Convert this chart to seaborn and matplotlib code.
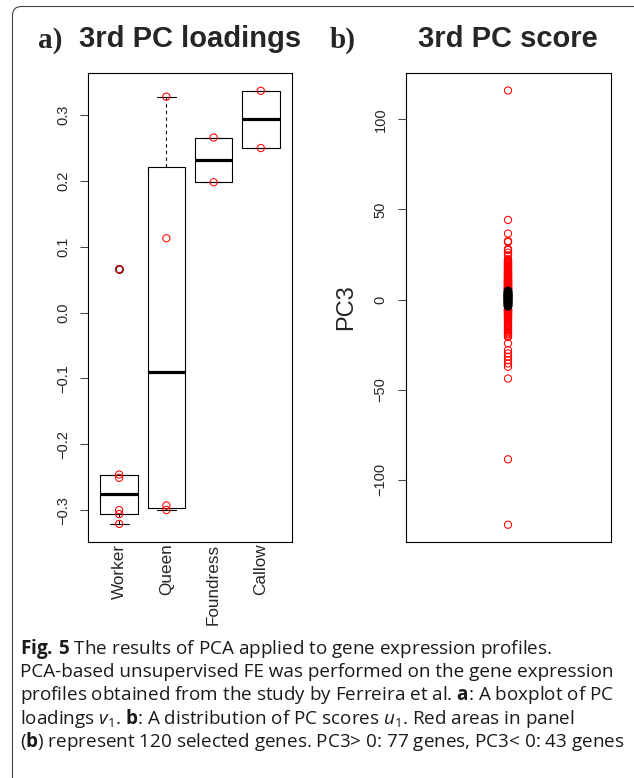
import numpy as np
import pandas as pd
import matplotlib
matplotlib.use("Agg")
import matplotlib.pyplot as plt
import seaborn as sns
from matplotlib.patches import FancyBboxPatch
from matplotlib.transforms import IdentityTransform

# ---------------- data ----------------
categories = ["Worker", "Queen", "Foundress", "Callow"]
worker_loadings = [0.066, -0.246, -0.251, -0.300, -0.306, -0.321]
queen_loadings = [0.328, 0.113, -0.293, -0.300]
foundress_loadings = [0.266, 0.198]
callow_loadings = [0.337, 0.250]
loading_ticks = [-0.3, -0.2, -0.1, 0.0, 0.1, 0.2, 0.3]

pc3_selected_pos = [116.0, 44.2, 36.6, 32.5, 31.9, 28.1, 27.5, 26.0, 24.5, 22.3, 21.9,
                    21.5, 21.1, 20.7, 20.2, 19.9, 19.5, 19.0, 18.7, 18.3, 17.9,
                    17.6, 17.2, 16.9, 16.5, 16.2, 15.8, 15.5, 15.3, 15.0, 14.7,
                    14.4, 14.2, 13.9, 13.6, 13.4, 13.1, 12.9, 12.6, 12.4, 12.1,
                    11.9, 11.7, 11.5, 11.2, 11.0, 10.8, 10.6, 10.4, 10.2, 10.0,
                    9.8, 9.6, 9.4, 9.2, 9.0, 8.8, 8.6, 8.4, 8.2, 8.0,
                    7.8, 7.6, 7.5, 7.3, 7.1, 6.9, 6.8, 6.6, 6.4, 6.3,
                    6.1, 6.0, 5.9, 5.8, 5.7, 5.6]
pc3_selected_neg = [-124.9, -88.6, -43.8, -37.3, -35.4, -33.6, -31.7, -29.9, -28.0, -24.3,
                    -20.8, -20.1, -19.3, -18.7, -18.0, -17.2, -16.5, -15.9, -15.2, -14.6,
                    -14.0, -13.3, -12.8, -12.2, -11.7, -11.1, -10.6, -10.1, -9.7, -9.2,
                    -8.8, -8.4, -8.0, -7.6, -7.3, -7.0, -6.7, -6.4, -6.2, -6.0,
                    -5.8, -5.6, -5.4]
pc3_other = [4.8, 4.5, 4.2, 3.9, 3.7, 3.4, 3.2, 2.9, 2.7, 2.5, 2.3, 2.1, 1.9, 1.7,
             1.5, 1.3, 1.1, 0.9, 0.7, 0.5, 0.3, 0.1, -0.1, -0.3, -0.5, -0.7, -0.9,
             -1.1, -1.3, -1.5, -1.8, -2.0, -2.3, -2.6, -2.9, -3.2, -3.5, -3.8]
score_ticks = [-100, -50, 0, 50, 100]

caption_lines = [
    r"$\mathbf{Fig.\,5}$ The results of PCA applied to gene expression profiles.",
    r"PCA-based unsupervised FE was performed on the gene expression",
    r"profiles obtained from the study by Ferreira et al. $\mathbf{a}$: A boxplot of PC",
    r"loadings $v_1$. $\mathbf{b}$: A distribution of PC scores $u_1$. Red areas in panel",
    r"($\mathbf{b}$) represent 120 selected genes. PC3> 0: 77 genes, PC3< 0: 43 genes",
]

# ---------------- style ----------------
sns.set_style("white")
plt.rcParams["font.family"] = ["Liberation Sans", "DejaVu Sans"]
plt.rcParams["mathtext.fontset"] = "custom"
plt.rcParams["mathtext.rm"] = "Open Sans"
plt.rcParams["mathtext.it"] = "Open Sans:italic"
plt.rcParams["mathtext.bf"] = "Open Sans:bold"

W, H = 634, 778
fig = plt.figure(figsize=(W / 100, H / 100), dpi=100)
fig.patch.set_facecolor("white")


def px_rect(l, t, r, b):
    return [l / W, 1 - b / H, (r - l) / W, (b - t) / H]


ax_a = fig.add_axes(px_rect(88, 73, 292, 542))
ax_b = fig.add_axes(px_rect(405.5, 73, 610.5, 541.5))

# ---------------- panel a ----------------
groups = [worker_loadings, queen_loadings, foundress_loadings, callow_loadings]
df_a = pd.DataFrame({
    "group": [c for c, g in zip(categories, groups) for _ in g],
    "loading": [v for g in groups for v in g],
})


def fivenum(v):
    x = np.sort(np.asarray(v, float))
    n = len(x)
    n4 = np.floor((n + 3) / 2) / 2
    d = np.array([1, n4, (n + 1) / 2, n + 1 - n4, n]) - 1
    return 0.5 * (x[np.floor(d).astype(int)] + x[np.ceil(d).astype(int)])


stats = []
for cat, vals in zip(categories, groups):
    lo, h1, med, h2, hi = fivenum(vals)
    iqr = h2 - h1
    arr = np.asarray(vals)
    ok = (arr >= h1 - 1.5 * iqr) & (arr <= h2 + 1.5 * iqr)
    stats.append(dict(med=med, q1=h1, q3=h2, whislo=arr[ok].min(), whishi=arr[ok].max(),
                      fliers=arr[~ok], label=cat))

ax_a.bxp(stats, positions=range(len(categories)), widths=0.8, capwidths=0.4,
         showfliers=True,
         boxprops=dict(color="black", lw=0.8),
         medianprops=dict(color="black", lw=2.3, solid_capstyle="butt"),
         whiskerprops=dict(color="black", lw=0.8, linestyle=(0, (3, 3))),
         capprops=dict(color="black", lw=0.8),
         flierprops=dict(marker="o", markerfacecolor="none", markeredgecolor="black",
                         markersize=5.2, markeredgewidth=1.1))

sns.stripplot(data=df_a, x="group", y="loading", order=categories, jitter=False,
              color="red", size=5.2, ax=ax_a, zorder=4)
for coll in ax_a.collections:
    coll.set_facecolor("none")
    coll.set_edgecolor("red")
    coll.set_linewidth(0.75)

ax_a.set_xlim(-0.66, 3.66)
ax_a.set_ylim(-0.3485, 0.364)
ax_a.set_xticks(range(len(categories)))
ax_a.set_xticklabels(categories, rotation=90, va="top", ha="center", fontsize=12.3)
ax_a.set_yticks(loading_ticks)
ax_a.set_yticklabels([f"{t:.1f}".replace("-", "\u2212") for t in loading_ticks],
                     rotation=90, va="center", fontsize=10.5)
ax_a.set_xlabel("")
ax_a.set_ylabel("")
ax_a.tick_params(axis="x", bottom=False, length=0, pad=1)
ax_a.set_title("3rd PC loadings", fontsize=21, fontweight="bold", pad=18.5)

# ---------------- panel b ----------------
sns.stripplot(y=pc3_selected_pos + pc3_selected_neg, jitter=False, color="red",
              size=5.2, ax=ax_b, zorder=3)
sns.stripplot(y=pc3_other, jitter=False, color="black", size=5.2, ax=ax_b, zorder=4)
for coll, c in zip(ax_b.collections, ["red", "black"]):
    coll.set_facecolor("none")
    coll.set_edgecolor(c)
    coll.set_linewidth(0.75 if c == "red" else 0.95)

ax_b.set_xlim(-0.5, 0.5)
ax_b.set_ylim(-134.2, 125.7)
ax_b.set_xticks([])
ax_b.set_yticks(score_ticks)
ax_b.set_yticklabels([str(t).replace("-", "\u2212") for t in score_ticks],
                     rotation=90, va="center", fontsize=10.5)
ax_b.set_ylabel("PC3", fontsize=17)
ax_b.yaxis.set_label_coords(-0.237, 0.5)
ax_b.set_title("3rd PC score", fontsize=21, fontweight="bold", pad=18.5)

for ax in (ax_a, ax_b):
    for sp in ax.spines.values():
        sp.set_visible(True)
        sp.set_color("black")
        sp.set_linewidth(0.8)
    ax.tick_params(axis="y", left=True, length=5.8, width=0.75, color="#444", pad=7)
    ax.grid(False)

# panel letters
fig.text(38 / W, 1 - 47.3 / H, "a)", ha="left", va="baseline",
         family="Liberation Serif", fontweight="bold", fontsize=21)
fig.text(330 / W, 1 - 47.3 / H, "b)", ha="left", va="baseline",
         family="Liberation Serif", fontweight="bold", fontsize=21)

# caption
for i, line in enumerate(caption_lines):
    fig.text(20 / W, 1 - (654 + 23.2 * i) / H, line, ha="left", va="baseline",
             family="Open Sans", fontsize=13.6, color="#1a1a1a")

# rounded frame
frame = FancyBboxPatch((12.5, -20), 640, H - 6.5 + 20,
                       boxstyle="round,pad=0,rounding_size=9",
                       transform=IdentityTransform(), fill=False,
                       ec="#444444", lw=0.8)
fig.add_artist(frame)

fig.savefig("out.png", dpi=100)
